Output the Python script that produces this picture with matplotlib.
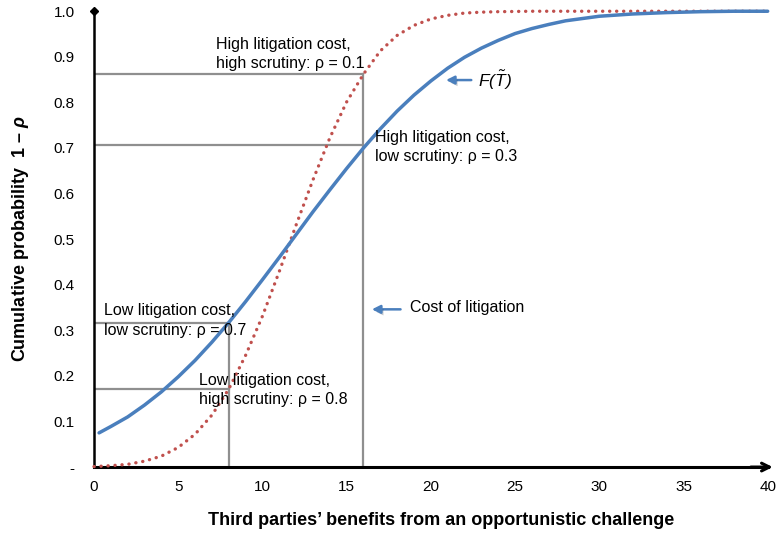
import matplotlib.pyplot as plt
import matplotlib.patheffects as pe

plt.rcParams['font.family'] = ['Liberation Sans', 'DejaVu Sans']
plt.rcParams['mathtext.fontset'] = 'custom'
plt.rcParams['mathtext.rm'] = 'Liberation Sans:italic'
plt.rcParams['mathtext.it'] = 'Liberation Sans:italic'
plt.rcParams['mathtext.bf'] = 'Liberation Sans:bold'
plt.rcParams['mathtext.bfit'] = 'Liberation Sans:italic:bold'

# Benefit levels (x) and the two cumulative distributions read at those levels
x_blue = [0.3, 1, 2, 3, 4, 5, 6, 7, 8, 9, 10, 11, 12, 13, 14, 15, 16, 17, 18, 19,
          20, 21, 22, 23, 24, 25, 26, 27, 28, 29, 30, 32, 34, 36, 38, 40]
f_blue = [0.075, 0.089, 0.110, 0.136, 0.165, 0.198, 0.234, 0.274, 0.317, 0.363,
          0.411, 0.460, 0.510, 0.560, 0.608, 0.655, 0.700, 0.742, 0.781, 0.816,
          0.847, 0.875, 0.899, 0.919, 0.936, 0.951, 0.962, 0.971, 0.979, 0.984,
          0.989, 0.994, 0.997, 0.999, 1.0, 1.0]

x_red = [0, 1, 2, 3, 4, 5, 6, 7, 8, 9, 10, 11, 12, 13, 14, 15, 16, 17, 18, 19,
         20, 21, 22, 23, 24, 26, 28, 30, 32, 34, 36, 38, 40]
f_red = [0.001, 0.003, 0.006, 0.013, 0.024, 0.043, 0.072, 0.114, 0.171, 0.245,
         0.331, 0.429, 0.531, 0.630, 0.722, 0.801, 0.862, 0.913, 0.947, 0.969,
         0.983, 0.991, 0.996, 0.998, 0.999, 1.0, 1.0, 1.0, 1.0, 1.0, 1.0, 1.0, 1.0]

# Litigation cost levels and the probabilities 1 - rho where the curves cross them
cost_low, cost_high = 8, 16
p_low_cost = [0.316, 0.171]    # low scrutiny (blue), high scrutiny (red)
p_high_cost = [0.706, 0.862]

labels = [
    ("High litigation cost,\nhigh scrutiny: ρ = 0.1", 7.24, 0.906),
    ("High litigation cost,\nlow scrutiny: ρ = 0.3", 16.7, 0.702),
    ("Low litigation cost,\nlow scrutiny: ρ = 0.7", 0.6, 0.322),
    ("Low litigation cost,\nhigh scrutiny: ρ = 0.8", 6.23, 0.169),
]

x_ticks = [0, 5, 10, 15, 20, 25, 30, 35, 40]
y_ticks = [0, 0.1, 0.2, 0.3, 0.4, 0.5, 0.6, 0.7, 0.8, 0.9, 1.0]
y_ticklabels = ['-', '0.1', '0.2', '0.3', '0.4', '0.5', '0.6', '0.7', '0.8', '0.9', '1.0']

blue = '#4a7fbd'
red = '#c0504d'
grey = '#8f8f8f'

fig = plt.figure(figsize=(7.77, 5.35), dpi=100)
ax = fig.add_axes([0.121, 0.127, 0.867, 0.852])

# grey guide lines at the two cost levels
for c, ps in [(cost_low, p_low_cost), (cost_high, p_high_cost)]:
    ax.plot([c, c], [0, max(ps)], color=grey, lw=1.6, zorder=1)
    for p in ps:
        ax.plot([0, c], [p, p], color=grey, lw=1.6, zorder=1)

ax.plot(x_red, f_red, color=red, lw=2.4, linestyle=(0, (0.05, 2.05)),
        dash_capstyle='round', clip_on=False, zorder=3)
ax.plot(x_blue, f_blue, color=blue, lw=2.5, solid_capstyle='round',
        solid_joinstyle='round', clip_on=False, zorder=4)

for txt, tx, ty in labels:
    ax.text(tx, ty, txt, fontsize=11.5, va='center', ha='left',
            linespacing=1.4, zorder=5)

# callouts with a soft drop shadow
arrow = dict(arrowstyle='-|>', color=blue, lw=1.8, mutation_scale=12,
             shrinkA=0, shrinkB=0)
a1 = ax.annotate('', xy=(20.9, 0.849), xytext=(22.4, 0.849), arrowprops=arrow)
a1.arrow_patch.set_path_effects([pe.SimplePatchShadow(offset=(1.5, -2), alpha=0.25), pe.Normal()])
ax.text(22.8, 0.849, r'$F(\tilde{T})$', fontsize=12.5, va='center', ha='left')
a2 = ax.annotate('', xy=(16.5, 0.346), xytext=(18.2, 0.346), arrowprops=arrow)
a2.arrow_patch.set_path_effects([pe.SimplePatchShadow(offset=(1.5, -2), alpha=0.25), pe.Normal()])
ax.text(18.75, 0.349, 'Cost of litigation', fontsize=11.5, va='center', ha='left')

ax.set_xlim(0, 40)
ax.set_ylim(0, 1.0)
ax.set_xticks(x_ticks)
ax.set_yticks(y_ticks)
ax.set_yticklabels(y_ticklabels)
ax.tick_params(length=0, labelsize=11)
ax.tick_params(axis='y', pad=14)
ax.tick_params(axis='x', pad=9)

for s in ['top', 'right']:
    ax.spines[s].set_visible(False)
ax.spines['left'].set_linewidth(1.8)
ax.spines['bottom'].set_linewidth(2.2)

# axis ends: diamond on top of y, open arrowhead on x
ax.plot([0], [1.0], marker='D', color='black', markersize=4, clip_on=False, zorder=6)
ax.annotate('', xy=(40.3, 0), xytext=(39.0, 0), annotation_clip=False,
            arrowprops=dict(arrowstyle='->', color='black', lw=2.2,
                            mutation_scale=14, shrinkA=0, shrinkB=0))

ax.set_xlabel('Third parties’ benefits from an opportunistic challenge',
              fontsize=13, fontweight='bold')
ax.xaxis.set_label_coords(0.515, -0.118)
ax.xaxis.label.set_va('center')
ax.set_ylabel('Cumulative probability  1 – $\\boldsymbol{\\rho}$',
              fontsize=13, fontweight='bold', labelpad=16)

fig.savefig('out.png', dpi=100)
